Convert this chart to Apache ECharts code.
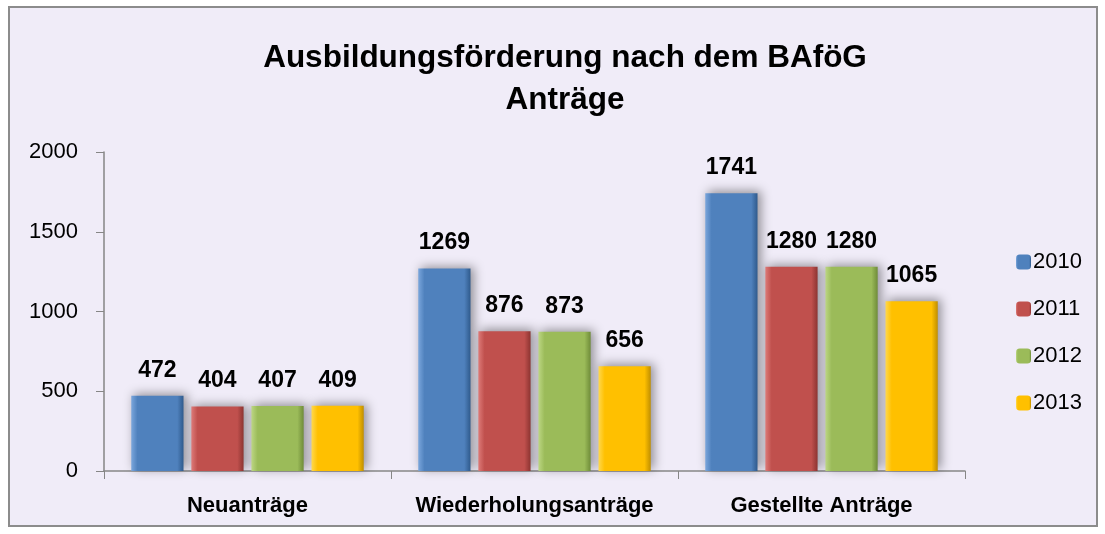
<!DOCTYPE html>
<html>
<head>
<meta charset="utf-8">
<script src="https://cdn.jsdelivr.net/npm/echarts@6/dist/echarts.min.js"></script>
<style>
  html, body { margin: 0; padding: 0; background: #ffffff; }
  #chart { width: 1105px; height: 534px; }
</style>
</head>
<body>
<div id="chart"></div>
<script>
// Daten
const categories = ['Neuanträge', 'Wiederholungsanträge', 'Gestellte Anträge']
const years = ['2010', '2011', '2012', '2013']
const values2010 = [472, 1269, 1741]
const values2011 = [404, 876, 1280]
const values2012 = [407, 873, 1280]
const values2013 = [409, 656, 1065]

const seriesValues = [values2010, values2011, values2012, values2013]
const baseColors = [
  ['#7aa6dc', '#4f81bd', '#2f5a8c'],
  ['#dd7a78', '#c0504d', '#8c3431'],
  ['#bcd683', '#9bbb59', '#6f8c39'],
  ['#ffd84d', '#ffc000', '#c08f00'],
]
const font = 'Liberation Sans, Arial, sans-serif'

const chart = echarts.init(document.getElementById('chart'))

const series = years.map((y, i) => ({
  name: y,
  type: 'bar',
  data: seriesValues[i],
  barGap: '15%',
  barCategoryGap: '19%',
  itemStyle: {
    color: new echarts.graphic.LinearGradient(0, 0, 1, 0, [
      { offset: 0, color: baseColors[i][0] },
      { offset: 0.12, color: baseColors[i][1] },
      { offset: 0.88, color: baseColors[i][1] },
      { offset: 1, color: baseColors[i][2] },
    ]),
    shadowColor: 'rgba(0,0,0,0.4)',
    shadowBlur: 10,
    shadowOffsetX: 3,
    shadowOffsetY: -2,
  },
  label: {
    show: true,
    position: 'top',
    distance: 14,
    color: '#000',
    fontFamily: font,
    fontWeight: 'bold',
    fontSize: 23,
  },
}))

const option = {
  animation: false,
  backgroundColor: '#ffffff',
  graphic: [
    {
      type: 'rect',
      left: 8,
      top: 6,
      shape: { width: 1088, height: 519 },
      style: { fill: '#f0ecf8', stroke: '#8c8c8c', lineWidth: 2 },
      z: -10,
    },
  ],
  title: {
    text: 'Ausbildungsförderung nach dem BAföG\nAnträge',
    left: 560,
    textAlign: 'center',
    top: 32,
    textStyle: {
      fontFamily: font,
      fontWeight: 'bold',
      fontSize: 31.5,
      lineHeight: 42,
      color: '#000',
    },
  },
  legend: {
    orient: 'vertical',
    left: 1011,
    top: 246,
    itemWidth: 15,
    itemHeight: 15,
    itemGap: 25,
    itemStyle: { shadowBlur: 0, shadowOffsetX: 0, shadowOffsetY: 0 },
    textStyle: { fontFamily: font, fontSize: 22, color: '#000', padding: [0, 0, 0, -3] },
    data: years,
  },
  grid: { left: 104, right: 140, top: 152, bottom: 63 },
  xAxis: {
    type: 'category',
    data: categories,
    axisLine: { lineStyle: { color: '#868686', width: 1.5 } },
    axisTick: { show: true, length: 8, lineStyle: { color: '#868686' } },
    axisLabel: {
      interval: 0,
      hideOverlap: false,
      color: '#000',
      fontFamily: font,
      fontWeight: 'bold',
      fontSize: 22,
      margin: 24,
    },
  },
  yAxis: {
    type: 'value',
    min: 0,
    max: 2000,
    interval: 500,
    axisLine: { show: true, lineStyle: { color: '#868686', width: 1.5 } },
    axisTick: { show: true, length: 8, lineStyle: { color: '#868686' } },
    splitLine: { show: false },
    axisLabel: {
      color: '#000',
      fontFamily: font,
      fontSize: 22,
      margin: 26,
      formatter: (v) => String(v),
    },
  },
  series: series,
}

chart.setOption(option)
</script>
</body>
</html>
